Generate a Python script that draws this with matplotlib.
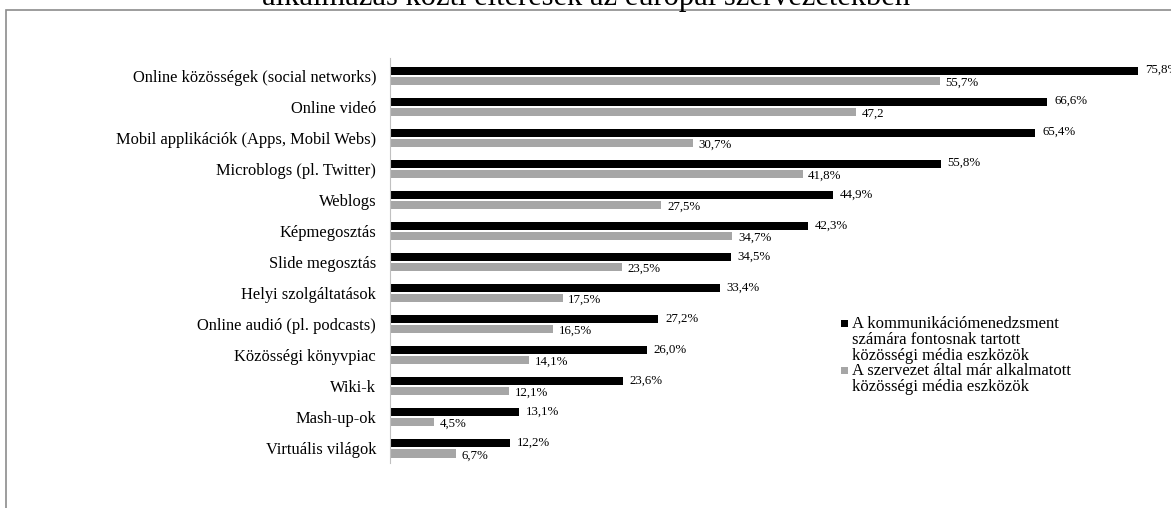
import matplotlib
matplotlib.use("Agg")
import matplotlib.pyplot as plt
from matplotlib.patches import Rectangle
import numpy as np

categories = [
    "Online közösségek (social networks)",
    "Online videó",
    "Mobil applikációk (Apps, Mobil Webs)",
    "Microblogs (pl. Twitter)",
    "Weblogs",
    "Képmegosztás",
    "Slide megosztás",
    "Helyi szolgáltatások",
    "Online audió (pl. podcasts)",
    "Közösségi könyvpiac",
    "Wiki-k",
    "Mash-up-ok",
    "Virtuális világok",
]
important = [75.8, 66.6, 65.4, 55.8, 44.9, 42.3, 34.5, 33.4, 27.2, 26.0, 23.6, 13.1, 12.2]
applied = [55.7, 47.2, 30.7, 41.8, 27.5, 34.7, 23.5, 17.5, 16.5, 14.1, 12.1, 4.5, 6.7]
important_labels = ["75,8%", "66,6%", "65,4%", "55,8%", "44,9%", "42,3%", "34,5%",
                    "33,4%", "27,2%", "26,0%", "23,6%", "13,1%", "12,2%"]
applied_labels = ["55,7%", "47,2", "30,7%", "41,8%", "27,5%", "34,7%", "23,5%",
                  "17,5%", "16,5%", "14,1%", "12,1%", "4,5%", "6,7%"]
series_names = [
    "A kommunikációmenedzsment\nszámára fontosnak tartott\nközösségi média eszközök",
    "A szervezet által már alkalmatott\nközösségi média eszközök",
]
series_colors = ['#000000', '#a6a6a6']
title = "alkalmazás közti eltérések az európai szervezetekben"

plt.rcParams['font.family'] = ['Liberation Serif', 'DejaVu Serif']

W, H = 1171, 508
fig = plt.figure(figsize=(W / 100, H / 100), dpi=100)


def fx(px):
    return px / W


def fy(py):
    return 1 - py / H


# outer frame (partly off-canvas)
fig.patches.append(Rectangle((fx(6), -0.1), 1.2, fy(10) + 0.1, transform=fig.transFigure,
                             fill=False, edgecolor='#8c8c8c', linewidth=1.2))

ax = fig.add_axes([fx(390), fy(463), 1 - fx(390), fy(58) - fy(463)])

y = np.arange(len(categories))
bh = 0.26
ax.barh(y - 0.163, important, height=bh, color=series_colors[0], label=series_names[0])
ax.barh(y + 0.163, applied, height=bh, color=series_colors[1], label=series_names[1])

for yi, v, lab in zip(y, important, important_labels):
    ax.annotate(lab, (v, yi - 0.19), xytext=(5, 0), textcoords='offset points',
                va='center', ha='left', fontsize=9.3, clip_on=False)
for yi, v, lab in zip(y, applied, applied_labels):
    ax.annotate(lab, (v, yi + 0.22), xytext=(4, 0), textcoords='offset points',
                va='center', ha='left', fontsize=9.3, clip_on=False)

ax.set_xlim(0, (W - 390) / 9.87)
ax.set_ylim(12.47, -0.58)
ax.set_yticks(y)
ax.set_yticklabels(categories, fontsize=11.9)
ax.tick_params(axis='y', length=0, pad=10)
ax.set_xticks([])
for s in ['top', 'right', 'bottom']:
    ax.spines[s].set_visible(False)
ax.spines['left'].set_color('#c0c0c0')
ax.patch.set_alpha(0)

# legend (marker aligned with first line of each entry, as in the reference)
legend_tops = [316, 363]
for name, col, top in zip(series_names, series_colors, legend_tops):
    fig.text(fx(852), fy(top), name, ha='left', va='top', fontsize=12, linespacing=0.99)
    fig.patches.append(Rectangle((fx(841), fy(top + 11)), 7 / W, 7 / H,
                                 transform=fig.transFigure, facecolor=col, edgecolor='none'))

fig.text(0.5, fy(5), title, ha='center', va='baseline', fontsize=22)

fig.savefig('out.png', dpi=100)
